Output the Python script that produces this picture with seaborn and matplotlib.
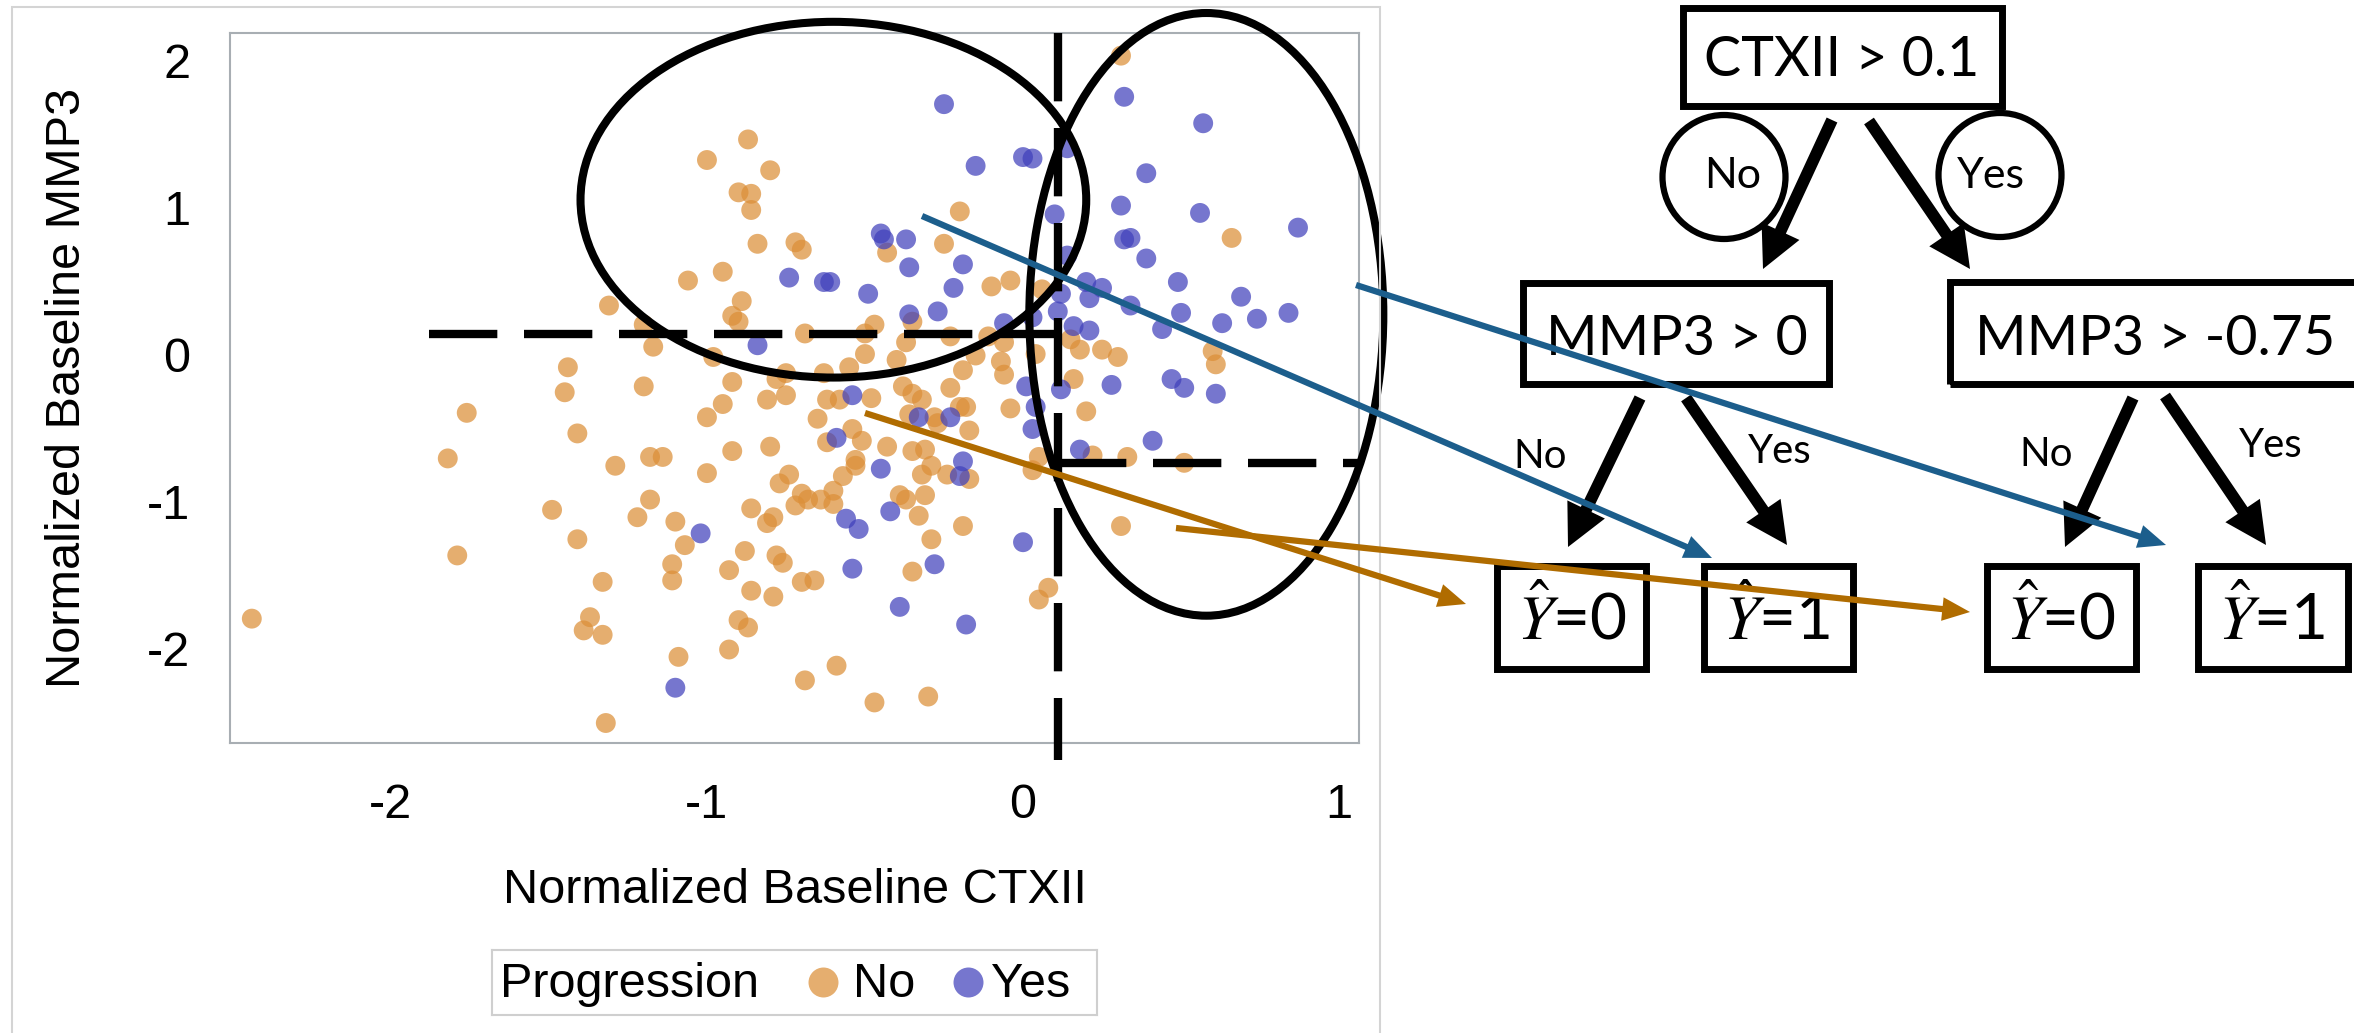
import numpy as np
import pandas as pd
import matplotlib as mpl
mpl.use('Agg')
import matplotlib.pyplot as plt
import seaborn as sns
from matplotlib.patches import Ellipse, Rectangle, FancyArrowPatch, ArrowStyle

sns.set_style('white')
plt.rcParams['font.family'] = ['Liberation Sans', 'DejaVu Sans']
plt.rcParams['mathtext.fontset'] = 'stix'
plt.rcParams['axes.unicode_minus'] = False
plt.rcParams['text.color'] = 'black'
plt.rcParams['axes.labelcolor'] = 'black'
plt.rcParams['xtick.color'] = 'black'
plt.rcParams['ytick.color'] = 'black'

# ---- data (normalized CTXII, normalized MMP3) ----
no_x = [-0.87, -1.00, -0.80, -0.90, -0.86, -0.86, -0.84, -0.72, -0.70, -0.95, -1.06, -1.31,
        -0.89, -0.92, -0.90, -1.20, -1.17, -0.69, -0.50, -0.47, -0.50, -0.55, -0.63, -0.75,
        -0.78, -0.98, -0.92, -1.20, -0.95, -0.81, -0.75, -0.62, -0.58, -0.48, -1.00, -0.65,
        -0.20, -0.25, -0.43, -0.10, -0.04, 0.06, -0.35, -0.37, -0.23, -0.11, -0.06, -0.15,
        -0.40, -0.19, -0.07, -0.06, 0.04, 0.15, 0.18, 0.25, 0.30, 0.16, -0.38, -0.35,
        -0.32, -0.23, -0.20, -0.18, -0.04, 0.20, -0.36, -0.28,
        -0.54, -0.51, -0.62, -1.29, -1.18, -1.14, -0.92, -0.80, -1.00, -0.53, -0.53, -0.74,
        -0.77, -0.57, -0.60, -0.70, -0.72, -0.68, -0.64, -0.60, -1.18, -1.22, -1.10, -0.86,
        -0.79, -0.81, -1.07, -0.88, -0.78, -0.76, -1.11, -1.11, -0.93, -1.33, -0.86, -0.79,
        -0.70, -0.66, -0.90, -0.87, -1.33, -1.09, -0.93, -0.59, -0.69,
        -0.27, -0.17, -0.43, -0.35, -0.31, -0.29, -0.32, -0.24, -0.17, -0.39, -0.37, -0.31,
        -0.33, -0.19, -0.29, -0.35, 0.05, 0.03, 0.22, 0.33, 0.31, 0.08, 0.05,
        -1.44, -1.45, -1.76, -1.82, -1.79, -2.44, -1.41, -1.49, -1.41, -1.37, -1.39, -1.32,
        0.31, 0.66, 0.60, 0.61, 0.51, -0.47, -0.30]
no_y = [1.46, 1.32, 1.25, 1.10, 1.09, 0.98, 0.75, 0.76, 0.71, 0.56, 0.50, 0.33,
        0.36, 0.26, 0.22, 0.20, 0.05, 0.14, 0.14, 0.20, 0.00, -0.09, -0.13, -0.13,
        -0.17, -0.02, -0.19, -0.22, -0.34, -0.31, -0.28, -0.31, -0.31, -0.30, -0.43, -0.44,
        0.97, 0.75, 0.69, 0.46, 0.50, 0.44, 0.22, 0.08, 0.12, 0.12, 0.08, -0.01,
        -0.04, -0.11, -0.05, -0.14, 0.00, 0.10, 0.03, 0.03, -0.02, -0.17, -0.22, -0.27,
        -0.31, -0.23, -0.36, -0.36, -0.37, -0.39, -0.41, -0.43,
        -0.51, -0.59, -0.60, -0.76, -0.70, -0.70, -0.66, -0.63, -0.81, -0.72, -0.76, -0.82,
        -0.88, -0.83, -0.93, -0.95, -1.03, -0.99, -0.99, -1.02, -0.99, -1.11, -1.14, -1.05,
        -1.11, -1.15, -1.30, -1.34, -1.37, -1.42, -1.43, -1.54, -1.47, -1.55, -1.61, -1.65,
        -1.55, -1.54, -1.81, -1.86, -1.91, -2.06, -2.01, -2.12, -2.22,
        -0.47, -0.52, -0.63, -0.66, -0.65, -0.76, -0.82, -0.82, -0.85, -0.96, -0.99, -0.96,
        -1.10, -1.17, -1.26, -1.48, -0.70, -0.79, -0.69, -0.70, -1.17, -1.59, -1.67,
        -0.09, -0.26, -0.40, -0.71, -1.37, -1.80, -0.54, -1.06, -1.26, -1.79, -1.88, -2.51,
        2.03, 0.79, 0.02, -0.07, -0.74, -2.37, -2.33]

yes_x = [-0.74, -0.63, -0.61, -0.49, -0.84, -0.54,
         -0.15, 0.00, 0.03, 0.14, 0.39, 0.31, 0.10, -0.45, -0.44, -0.37, -0.36, -0.19,
         0.32, 0.34, 0.39, 0.14, -0.22, -0.27, -0.36, 0.12, 0.20, 0.25, 0.21, 0.34,
         0.11, 0.03, -0.06, 0.16, 0.21, 0.01, 0.12, 0.28, -0.33, -0.23, 0.04,
         -0.59, -0.56, -0.52, -1.02, -0.54, -1.10,
         0.03, 0.18, 0.41, -0.45, -0.19, -0.20, -0.42, 0.00, -0.28, -0.39, -0.18,
         0.32, 0.57, -0.25, 0.56, 0.87, 0.49, 0.69, 0.50, 0.63, 0.74, 0.84, 0.44,
         0.47, 0.51, 0.61]
yes_y = [0.52, 0.49, 0.49, 0.41, 0.06, -0.28,
         1.28, 1.34, 1.33, 1.40, 1.23, 1.01, 0.95, 0.82, 0.78, 0.78, 0.59, 0.61,
         0.78, 0.79, 0.65, 0.67, 0.45, 0.29, 0.27, 0.41, 0.49, 0.45, 0.38, 0.33,
         0.29, 0.25, 0.21, 0.19, 0.16, -0.22, -0.24, -0.21, -0.43, -0.43, -0.36,
         -0.57, -1.12, -1.19, -1.22, -1.46, -2.27,
         -0.51, -0.65, -0.59, -0.78, -0.73, -0.83, -1.07, -1.28, -1.43, -1.72, -1.84,
         1.75, 1.57, 1.70, 0.96, 0.86, 0.49, 0.39, 0.28, 0.21, 0.24, 0.28, 0.17,
         -0.17, -0.23, -0.27]

groups = ['No', 'Yes']
x_ticks = [-2, -1, 0, 1]
y_ticks = [-2, -1, 0, 1, 2]

# tree split values
ctx_split = 0.11
mmp_split_left = 0.136
mmp_split_right = -0.74

df = pd.DataFrame({
    'ctxii': no_x + yes_x,
    'mmp3': no_y + yes_y,
    'Progression': ['No'] * len(no_x) + ['Yes'] * len(yes_x),
})

ORANGE = '#dc8f38'
BLUE = '#4141bb'
PALETTE = {'No': ORANGE, 'Yes': BLUE}
GRAY = '#a8aeb3'
ARR_BLUE = '#1c5e8c'
ARR_ORANGE = '#b06c00'
TREE_FONT = ['Lato', 'DejaVu Sans']

W, H = 2354, 1033


def fx(px):
    return px / W


def fy(py):
    return 1 - py / H


fig = plt.figure(figsize=(W / 100, H / 100), dpi=100)
fig.patch.set_facecolor('white')

# outer frame of the left panel
fig.add_artist(Rectangle((fx(12), fy(1040)), (1380 - 12) / W, (1040 - 7) / H,
                         transform=fig.transFigure, fill=False, ec='#d4d4d4', lw=1.5))

ax = fig.add_axes([fx(230), fy(743), 1129 / W, 710 / H])
sns.scatterplot(data=df, x='ctxii', y='mmp3', hue='Progression', hue_order=groups,
                palette=PALETTE, s=205, alpha=0.72, linewidth=0, legend=False,
                ax=ax, zorder=2)

ax.set_xlim(-2.509, 1.063)
ax.set_ylim(-2.646, 2.184)
ax.set_xticks(x_ticks)
ax.set_yticks(y_ticks)
ax.tick_params(direction='out', length=16.5, width=1.5, color=GRAY,
               labelcolor='black', labelsize=35, pad=12)
for sp in ax.spines.values():
    sp.set_visible(True)
    sp.set_color(GRAY)
    sp.set_linewidth(1.5)
ax.set_xlabel('Normalized Baseline CTXII', fontsize=35, color='black')
ax.set_ylabel('Normalized Baseline MMP3', fontsize=35, color='black')
ax.xaxis.set_label_coords(0.5, -0.176)
ax.yaxis.set_label_coords(-0.124, 0.5)

# split lines
dash = dict(color='black', lw=6, dashes=(8.2, 3.2), clip_on=False, zorder=4)
ax.plot([ctx_split, ctx_split], [2.184, -2.76], **dash)
ax.plot([-1.88, ctx_split], [mmp_split_left, mmp_split_left], **dash)
ax.plot([ctx_split, 1.06], [mmp_split_right, mmp_split_right], **dash)

# highlighted regions
ax.add_patch(Ellipse((-0.60, 1.05), 1.60, 2.42, fill=False, ec='black', lw=5.8,
                     clip_on=False, zorder=5))
ax.add_patch(Ellipse((0.58, 0.27), 1.12, 4.10, fill=False, ec='black', lw=5.8,
                     clip_on=False, zorder=5))

# legend
lax = fig.add_axes([fx(492), fy(1015), (1097 - 492) / W, (1015 - 950) / H])
lax.set_xlim(492, 1097)
lax.set_ylim(1015, 950)
lax.set_xticks([])
lax.set_yticks([])
for sp in lax.spines.values():
    sp.set_color('#cfcfcf')
    sp.set_linewidth(1.5)
lax.text(500, 997, 'Progression', fontsize=35, va='baseline', ha='left', color='black')
lax.scatter([823], [982], s=466, color=ORANGE, alpha=0.72, linewidth=0)
lax.text(853, 997, 'No', fontsize=35, va='baseline', ha='left', color='black')
lax.scatter([968], [982], s=466, color=BLUE, alpha=0.72, linewidth=0)
lax.text(991, 997, 'Yes', fontsize=35, va='baseline', ha='left', color='black')


# ---- decision tree ----
def box(x0, y0, x1, y1):
    fig.add_artist(Rectangle((fx(x0), fy(y1)), (x1 - x0) / W, (y1 - y0) / H,
                             transform=fig.transFigure, fill=False, ec='black',
                             lw=5, joinstyle='miter', zorder=5))


def tree_text(x, y, s, size):
    fig.text(fx(x), fy(y), s, fontsize=size, ha='center', va='baseline',
             family=TREE_FONT, color='black', zorder=6)


def arrow(p0, p1, color, tail, head_w, head_l, z):
    style = ArrowStyle.Simple(head_length=head_l, head_width=head_w, tail_width=tail)
    fig.add_artist(FancyArrowPatch((fx(p0[0]), fy(p0[1])), (fx(p1[0]), fy(p1[1])),
                                   transform=fig.transFigure, arrowstyle=style,
                                   mutation_scale=10, fc=color, ec='none', lw=0,
                                   shrinkA=0, shrinkB=0, zorder=z))


box(1683, 8, 2002, 106)
tree_text(1842, 76, 'CTXII > 0.1', 40)

for cx, cy, lab, tx in [(1724, 177, 'No', 1733), (2000, 175, 'Yes', 1991)]:
    fig.add_artist(Ellipse((fx(cx), fy(cy)), 123 / W, 124 / H,
                           transform=fig.transFigure, fill=False, ec='black',
                           lw=4.5, zorder=5))
    tree_text(tx, 188, lab, 31)

box(1523, 283, 1829, 384)
tree_text(1677, 355, 'MMP3 > 0', 40)
box(1950, 282, 2364, 384)
tree_text(2155, 355, 'MMP3 > -0.75', 40)

leaf_boxes = [(1497, 1646), (1704, 1853), (1987, 2136), (2198, 2348)]
leaf_text = [(1572, r'$\hat{Y}$=0'), (1777, r'$\hat{Y}$=1'),
             (2061, r'$\hat{Y}$=0'), (2272, r'$\hat{Y}$=1')]
for (x0, x1), (tx, s) in zip(leaf_boxes, leaf_text):
    box(x0, 566, x1, 669)
    tree_text(tx, 640, s, 46)

for p0, p1 in [((1832, 120), (1763, 269)), ((1869, 121), (1970, 269)),
               ((1640, 398), (1568, 547)), ((1686, 398), (1787, 545)),
               ((2133, 398), (2065, 547)), ((2165, 396), (2266, 545))]:
    arrow(p0, p1, 'black', 0.85, 3.0, 3.0, 7)

for x, y, s in [(1540, 468, 'No'), (1780, 463, 'Yes'),
                (2046, 466, 'No'), (2271, 457, 'Yes')]:
    tree_text(x, y, s, 29)

# links from scatter regions to leaves
arrow((922, 216), (1712, 558), ARR_BLUE, 0.45, 1.7, 2.0, 10)
arrow((1356, 285), (2166, 545), ARR_BLUE, 0.45, 1.7, 2.0, 10)
arrow((865, 413), (1466, 604), ARR_ORANGE, 0.45, 1.7, 2.0, 10)
arrow((1176, 528), (1970, 612), ARR_ORANGE, 0.45, 1.7, 2.0, 10)

fig.savefig('out.png', dpi=100, facecolor='white')
